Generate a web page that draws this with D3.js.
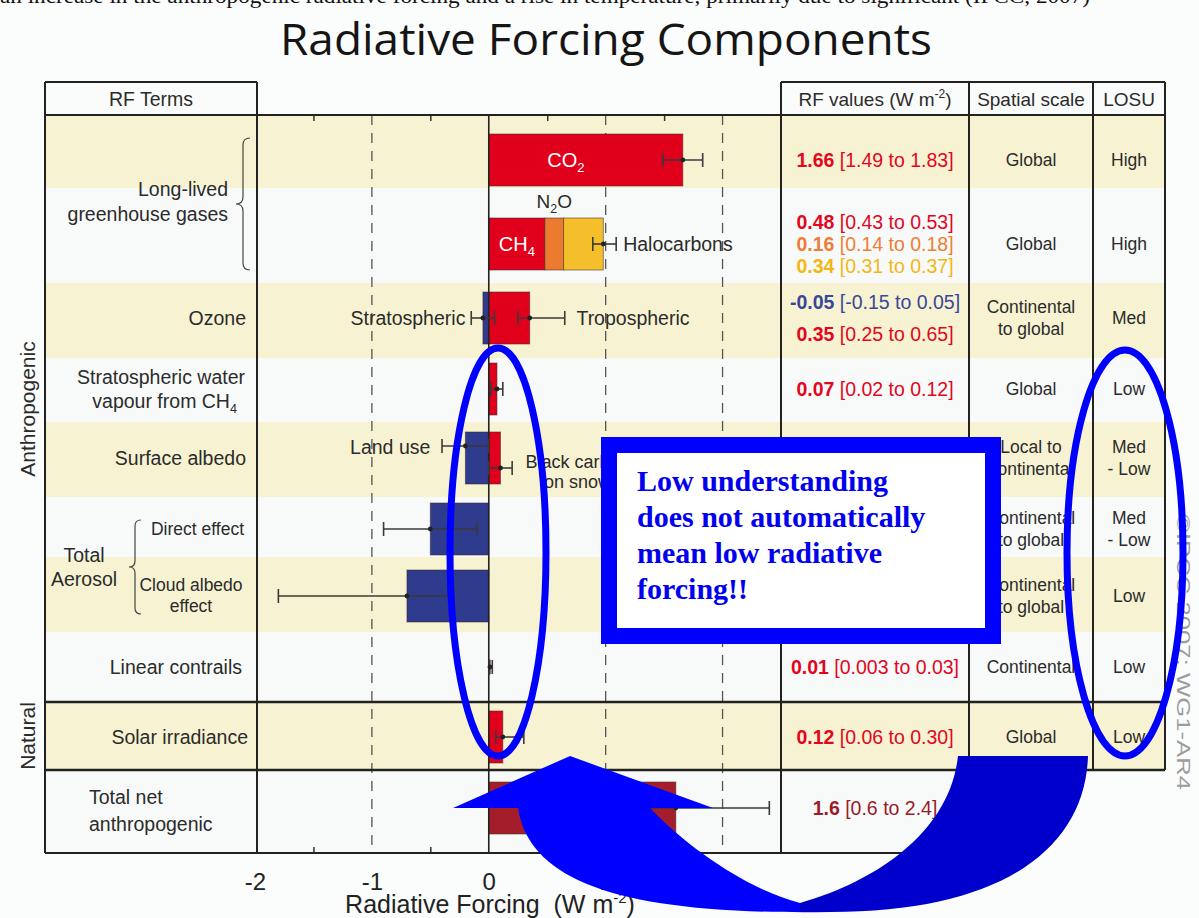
<!DOCTYPE html>
<html>
<head>
<meta charset="utf-8">
<script src="https://cdn.jsdelivr.net/npm/d3@7"></script>
<style>
  body { margin: 0; background: #fbfcfc; }
  svg text { font-family: "Liberation Sans", Arial, sans-serif; }
</style>
</head>
<body>
<div id="chart"></div>
<script>
// ---- data ----
var rowKeys = ["co2", "ghg", "ozone", "water", "albedo", "direct", "cloud", "contrail", "solar", "total"];

var barTerms = ["CO2", "CH4", "N2O", "Halocarbons", "Stratospheric ozone", "Tropospheric ozone",
  "Stratospheric water vapour", "Land use", "Black carbon on snow", "Direct effect",
  "Cloud albedo effect", "Linear contrails", "Solar irradiance", "Total net anthropogenic"];
var barRows = ["co2", "ghg", "ghg", "ghg", "ozone", "ozone", "water", "albedo", "albedo",
  "direct", "cloud", "contrail", "solar", "total"];
var barValues = [1.66, 0.48, 0.16, 0.34, -0.05, 0.35, 0.07, -0.2, 0.1, -0.5, -0.7, 0.01, 0.12, 1.6];
var barLow = [1.49, 0.43, 0.14, 0.31, -0.15, 0.25, 0.02, -0.4, 0.0, -0.9, -1.8, 0.003, 0.06, 0.6];
var barHigh = [1.83, 0.53, 0.18, 0.37, 0.05, 0.65, 0.12, 0.0, 0.2, -0.1, -0.3, 0.03, 0.30, 2.4];
// uncertainty drawn for the whole long-lived GHG stack
var ghgStackRange = [0.89, 1.09];

var xTicks = [-2, -1, 0, 1, 2];
var minorTicks = [-1.5, -0.5, 0.5, 1.5];
var dashedTicks = [-1, 1, 2];

// RF values column: [best estimate, range, colour key]
var valueLines = [
  [["1.66", "[1.49 to 1.83]", "red"]],
  [["0.48", "[0.43 to 0.53]", "red"], ["0.16", "[0.14 to 0.18]", "orange"], ["0.34", "[0.31 to 0.37]", "yellow"]],
  [["-0.05", "[-0.15 to 0.05]", "blue"], ["0.35", "[0.25 to 0.65]", "red"]],
  [["0.07", "[0.02 to 0.12]", "red"]],
  [["-0.2", "[-0.4 to 0.0]", "blue"], ["0.1", "[0.0 to 0.2]", "red"]],
  [["-0.5", "[-0.9 to -0.1]", "blue"]],
  [["-0.7", "[-1.8 to -0.3]", "blue"]],
  [["0.01", "[0.003 to 0.03]", "red"]],
  [["0.12", "[0.06 to 0.30]", "red"]],
  [["1.6", "[0.6 to 2.4]", "dark"]]
];
var spatialLines = [["Global"], ["Global"], ["Continental", "to global"], ["Global"], ["Local to", "continental"],
  ["Continental", "to global"], ["Continental", "to global"], ["Continental"], ["Global"], []];
var losuLines = [["High"], ["High"], ["Med"], ["Low"], ["Med", "- Low"], ["Med", "- Low"], ["Low"], ["Low"], ["Low"], []];

// ---- layout / style ----
var W = 1199, H = 918;
var rowEdges = [115, 188, 283, 358, 422, 497, 557, 632, 702, 770, 853];
var rowCenters = [160, 244, 318, 389, 458, 529, 596, 667, 737, 808];
var barH = 52;
var cols = { left: 45, labelEnd: 257, plotEnd: 781, valEnd: 969, scaleEnd: 1093, right: 1165 };
var headerTop = 82;

var palette = { red: "#e1001c", orange: "#ec7b30", yellow: "#f4bf2a", blue: "#2f3b8c", dark: "#a31d2a" };
var textPalette = { red: "#e2061f", orange: "#ee7e35", yellow: "#f3b712", blue: "#3a4699", dark: "#9a1b2b" };
var termColor = {
  "CO2": "red", "CH4": "red", "N2O": "orange", "Halocarbons": "yellow", "Stratospheric ozone": "blue",
  "Tropospheric ozone": "red", "Stratospheric water vapour": "red", "Land use": "blue",
  "Black carbon on snow": "red", "Direct effect": "blue", "Cloud albedo effect": "blue",
  "Linear contrails": "red", "Solar irradiance": "red", "Total net anthropogenic": "dark"
};
var errOffset = { "Land use": -12, "Black carbon on snow": 10 };
var ink = "#2b2b2b";
var serif = "'Liberation Serif', 'Times New Roman', serif";

var xScale = d3.scaleLinear().domain([-2, 2.5]).range([255, cols.plotEnd]);
var rowY = d3.scaleOrdinal().domain(rowKeys).range(rowCenters);

var svg = d3.select("#chart").append("svg")
  .attr("width", W)
  .attr("height", H);

svg.append("rect").attr("width", W).attr("height", H).attr("fill", "#fbfcfc");

// clipped caption line from the slide above
svg.append("text")
  .attr("x", 0).attr("y", 3)
  .style("font-family", serif)
  .attr("font-size", 22).attr("fill", "#111")
  .attr("textLength", 1090).attr("lengthAdjust", "spacingAndGlyphs")
  .text("an increase in the anthropogenic radiative forcing and a rise in temperature, primarily due to significant (IPCC, 2007)");

// Title
svg.append("text")
  .attr("x", 606).attr("y", 55)
  .attr("text-anchor", "middle")
  .style("font-family", "'Open Sans', 'Noto Sans', sans-serif")
  .attr("font-size", 44).attr("fill", "#151515")
  .attr("textLength", 652).attr("lengthAdjust", "spacingAndGlyphs")
  .text("Radiative Forcing Components");

// Row bands
svg.append("g").selectAll("rect")
  .data(rowKeys)
  .enter().append("rect")
  .attr("x", cols.left)
  .attr("y", (d, i) => rowEdges[i])
  .attr("width", d => (d === "total" ? cols.valEnd : cols.right) - cols.left)
  .attr("height", (d, i) => rowEdges[i + 1] - rowEdges[i])
  .attr("fill", (d, i) => i % 2 === 0 ? "#f7f3d2" : "#f8fafa");

// Header cells
svg.append("rect").attr("x", cols.left).attr("y", headerTop).attr("width", cols.labelEnd - cols.left)
  .attr("height", 115 - headerTop).attr("fill", "#fafcfb");
svg.append("rect").attr("x", cols.plotEnd).attr("y", headerTop).attr("width", cols.right - cols.plotEnd)
  .attr("height", 115 - headerTop).attr("fill", "#fafcfb");

// Dashed reference lines
svg.append("g").selectAll("line")
  .data(dashedTicks)
  .enter().append("line")
  .attr("x1", d => xScale(d)).attr("x2", d => xScale(d))
  .attr("y1", 115).attr("y2", 853)
  .attr("stroke", "#555").attr("stroke-width", 1.3)
  .attr("stroke-dasharray", "10,8");

// Minor ticks top and bottom
var topAxis = d3.axisBottom(xScale).tickValues(minorTicks).tickSize(6).tickFormat("");
svg.append("g").attr("transform", "translate(0,115)").call(topAxis)
  .call(g => g.select(".domain").remove())
  .selectAll("line").attr("stroke", "#333").attr("stroke-width", 1.5);
var botMinor = d3.axisTop(xScale).tickValues(minorTicks).tickSize(6).tickFormat("");
svg.append("g").attr("transform", "translate(0,853)").call(botMinor)
  .call(g => g.select(".domain").remove())
  .selectAll("line").attr("stroke", "#333").attr("stroke-width", 1.5);

// Bottom axis labels
var bottomAxis = d3.axisBottom(xScale).tickValues(xTicks).tickSize(0).tickPadding(20)
  .tickFormat(d => String(d));
svg.append("g").attr("transform", "translate(0,853)").call(bottomAxis)
  .call(g => g.select(".domain").remove())
  .selectAll("text")
  .attr("font-size", 24).attr("fill", "#222");

var axisLabel = svg.append("text")
  .attr("x", 490).attr("y", 913)
  .attr("text-anchor", "middle")
  .style("white-space", "pre")
  .attr("font-size", 25).attr("fill", "#222");
axisLabel.append("tspan").text("Radiative Forcing  (W m");
axisLabel.append("tspan").attr("font-size", 15).attr("dy", -10).text("-2");
axisLabel.append("tspan").attr("dy", 10).text(")");

// ---- bars ----
var bars = barTerms.map(function(t, i) {
  return { term: t, row: barRows[i], value: barValues[i], low: barLow[i], high: barHigh[i] };
});
// stack positive and negative parts within each row
var posSum = {}, negSum = {};
bars.forEach(function(b) {
  if (b.value >= 0) {
    b.x0 = posSum[b.row] || 0;
    b.x1 = b.x0 + b.value;
    posSum[b.row] = b.x1;
  } else {
    b.x1 = negSum[b.row] || 0;
    b.x0 = b.x1 + b.value;
    negSum[b.row] = b.x0;
  }
});

svg.append("g").selectAll("rect")
  .data(bars)
  .enter().append("rect")
  .attr("x", d => xScale(d.x0))
  .attr("y", d => rowY(d.row) - barH / 2)
  .attr("width", d => Math.max(xScale(d.x1) - xScale(d.x0), 1.5))
  .attr("height", d => d.row === "contrail" ? 14 : barH)
  .attr("transform", d => d.row === "contrail" ? "translate(0," + (barH / 2 - 7) + ")" : null)
  .attr("fill", d => palette[termColor[d.term]])
  .attr("stroke", "#3a2a2a").attr("stroke-opacity", 0.55).attr("stroke-width", 1);

// zero line
svg.append("line")
  .attr("x1", xScale(0)).attr("x2", xScale(0))
  .attr("y1", 115).attr("y2", 853)
  .attr("stroke", "#222").attr("stroke-width", 1.6);

// error bars
var errs = bars.filter(d => d.row !== "ghg").map(d => ({
  lo: d.low, hi: d.high, mid: d.value, y: rowY(d.row) + (errOffset[d.term] || 0)
}));
errs.push({ lo: ghgStackRange[0], hi: ghgStackRange[1], mid: posSum["ghg"], y: rowY("ghg") });

var eg = svg.append("g").selectAll("g").data(errs).enter().append("g");
eg.append("line")
  .attr("x1", d => xScale(d.lo)).attr("x2", d => xScale(d.hi))
  .attr("y1", d => d.y).attr("y2", d => d.y)
  .attr("stroke", "#3a3a3a").attr("stroke-width", 1.6);
eg.selectAll(".cap")
  .data(d => [[d.lo, d.y], [d.hi, d.y]])
  .enter().append("line")
  .attr("x1", d => xScale(d[0])).attr("x2", d => xScale(d[0]))
  .attr("y1", d => d[1] - 7).attr("y2", d => d[1] + 7)
  .attr("stroke", "#3a3a3a").attr("stroke-width", 1.6);
eg.append("circle")
  .attr("cx", d => xScale(d.mid)).attr("cy", d => d.y)
  .attr("r", 2.4).attr("fill", "#222");

// bar annotations
function sub(sel, main, s, after) {
  sel.append("tspan").text(main);
  sel.append("tspan").attr("font-size", "0.65em").attr("dy", 5).text(s);
  if (after) sel.append("tspan").attr("dy", -5).text(after);
  return sel;
}
sub(svg.append("text").attr("x", xScale(0.66)).attr("y", rowY("co2") + 7)
  .attr("text-anchor", "middle").attr("font-size", 20).attr("fill", "#fff"), "CO", "2");
sub(svg.append("text").attr("x", xScale(0.24)).attr("y", rowY("ghg") + 7)
  .attr("text-anchor", "middle").attr("font-size", 20).attr("fill", "#fff"), "CH", "4");
sub(svg.append("text").attr("x", xScale(0.56)).attr("y", 208)
  .attr("text-anchor", "middle").attr("font-size", 19).attr("fill", ink), "N", "2", "O");

function plotLabel(x, y, txt, anchor) {
  svg.append("text").attr("x", x).attr("y", y).attr("text-anchor", anchor)
    .attr("font-size", 19.5).attr("fill", ink).text(txt);
}
plotLabel(xScale(1.15), rowY("ghg") + 7, "Halocarbons", "start");
plotLabel(xScale(-0.2), rowY("ozone") + 7, "Stratospheric", "end");
plotLabel(xScale(0.75), rowY("ozone") + 7, "Tropospheric", "start");
plotLabel(xScale(-0.5), rowY("albedo") - 4, "Land use", "end");
svg.append("text").attr("x", xScale(0.76)).attr("y", rowY("albedo") + 10)
  .attr("text-anchor", "middle").attr("font-size", 18).attr("fill", ink).text("Black carbon");
svg.append("text").attr("x", xScale(0.76)).attr("y", rowY("albedo") + 30)
  .attr("text-anchor", "middle").attr("font-size", 18).attr("fill", ink).text("on snow");

// ---- left labels ----
function label(x, y, txt, anchor, size) {
  return svg.append("text").attr("x", x).attr("y", y).attr("text-anchor", anchor || "end")
    .attr("font-size", size || 19.5).attr("fill", ink).text(txt);
}
label(228, 196, "Long-lived");
label(228, 221, "greenhouse gases");
label(246, rowY("ozone") + 7, "Ozone");
label(245, 384, "Stratospheric water");
sub(svg.append("text").attr("x", 237).attr("y", 408).attr("text-anchor", "end")
  .attr("font-size", 19.5).attr("fill", ink), "vapour from CH", "4");
label(246, rowY("albedo") + 7, "Surface albedo");
label(244, rowY("direct") + 6, "Direct effect", "end", 17.5);
label(191, 591, "Cloud albedo", "middle", 17.5);
label(191, 612, "effect", "middle", 17.5);
label(84, 562, "Total", "middle");
label(84, 586, "Aerosol", "middle");
label(242, rowY("contrail") + 7, "Linear contrails");
label(248, rowY("solar") + 7, "Solar irradiance");
label(89, 804, "Total net", "start");
label(89, 831, "anthropogenic", "start");

function brace(x, y0, y1, w) {
  var ym = (y0 + y1) / 2;
  return "M" + (x + w) + "," + y0 + " Q" + x + "," + y0 + " " + x + "," + (y0 + w) +
    " L" + x + "," + (ym - w) + " Q" + x + "," + ym + " " + (x - w) + "," + ym +
    " Q" + x + "," + ym + " " + x + "," + (ym + w) +
    " L" + x + "," + (y1 - w) + " Q" + x + "," + y1 + " " + (x + w) + "," + y1;
}
svg.append("path").attr("d", brace(243, 138, 270, 7)).attr("fill", "none").attr("stroke", "#444").attr("stroke-width", 1.2);
svg.append("path").attr("d", brace(135, 520, 614, 6)).attr("fill", "none").attr("stroke", "#444").attr("stroke-width", 1.2);

svg.append("text").attr("transform", "translate(35,409) rotate(-90)")
  .attr("text-anchor", "middle").attr("font-size", 21).attr("fill", ink).text("Anthropogenic");
svg.append("text").attr("transform", "translate(35,736) rotate(-90)")
  .attr("text-anchor", "middle").attr("font-size", 21).attr("fill", ink).text("Natural");

// ---- headers ----
label(151, 106, "RF Terms", "middle");
var hv = svg.append("text").attr("x", 875).attr("y", 106).attr("text-anchor", "middle")
  .attr("font-size", 19).attr("fill", ink);
hv.append("tspan").text("RF values (W m");
hv.append("tspan").attr("font-size", 12).attr("dy", -8).text("-2");
hv.append("tspan").attr("dy", 8).text(")");
label(1031, 106, "Spatial scale", "middle", 19);
label(1129, 106, "LOSU", "middle", 19);

// ---- values / spatial / LOSU columns ----
var valueSpacing = { ghg: 22, ozone: 32, albedo: 22 };
rowKeys.forEach(function(k, i) {
  var lines = valueLines[i];
  var sp = valueSpacing[k] || 22;
  lines.forEach(function(l, j) {
    var y = rowY(k) + (j - (lines.length - 1) / 2) * sp + 7;
    var t = svg.append("text").attr("x", 875).attr("y", y).attr("text-anchor", "middle")
      .attr("font-size", 19.5).attr("fill", textPalette[l[2]]);
    t.append("tspan").attr("font-weight", "bold").text(l[0] + " ");
    t.append("tspan").text(l[1]);
  });
  spatialLines[i].forEach(function(s, j) {
    var y = rowY(k) + (j - (spatialLines[i].length - 1) / 2) * 22 + 6;
    label(1031, y, s, "middle", 17.5);
  });
  losuLines[i].forEach(function(s, j) {
    var y = rowY(k) + (j - (losuLines[i].length - 1) / 2) * 22 + 6;
    label(1129, y, s, "middle", 17.5);
  });
});

// ---- table frame ----
var hLines = [
  [cols.left, cols.labelEnd, headerTop, 2], [cols.plotEnd, cols.right, headerTop, 2],
  [cols.left, cols.right, 115, 2], [cols.left, cols.right, 702, 2.6],
  [cols.left, cols.right, 770, 2.6], [cols.left, cols.valEnd, 853, 2.2]
];
svg.append("g").selectAll("line").data(hLines).enter().append("line")
  .attr("x1", d => d[0]).attr("x2", d => d[1]).attr("y1", d => d[2]).attr("y2", d => d[2])
  .attr("stroke", "#222").attr("stroke-width", d => d[3]);
var vLines = [
  [cols.left, 853], [cols.labelEnd, 853], [cols.plotEnd, 853], [cols.valEnd, 853],
  [cols.scaleEnd, 770], [cols.right, 770]
];
svg.append("g").selectAll("line").data(vLines).enter().append("line")
  .attr("x1", d => d[0]).attr("x2", d => d[0]).attr("y1", headerTop).attr("y2", d => d[1])
  .attr("stroke", "#222").attr("stroke-width", 2);

svg.append("text").attr("transform", "translate(1177,514) rotate(90)")
  .attr("font-size", 19).attr("fill", "#9c9c9c")
  .attr("textLength", 276).attr("lengthAdjust", "spacingAndGlyphs")
  .text("©IPCC 2007: WG1-AR4");

// ---- overlays ----
svg.append("ellipse").attr("cx", 498).attr("cy", 552).attr("rx", 48).attr("ry", 204)
  .attr("fill", "none").attr("stroke", "#0000ff").attr("stroke-width", 7);
svg.append("ellipse").attr("cx", 1125).attr("cy", 553).attr("rx", 58).attr("ry", 203)
  .attr("fill", "none").attr("stroke", "#0000ff").attr("stroke-width", 7);

svg.append("rect").attr("x", 609).attr("y", 445).attr("width", 384).attr("height", 191)
  .attr("fill", "#fff").attr("stroke", "#0000ff").attr("stroke-width", 16);
var msg = ["Low understanding", "does not automatically", "mean low radiative", "forcing!!"];
svg.append("g").selectAll("text").data(msg).enter().append("text")
  .attr("x", 637).attr("y", (d, i) => 491 + i * 36)
  .style("font-family", serif)
  .attr("font-weight", "bold").attr("font-size", 30).attr("fill", "#0000ee")
  .text(d => d);

var defs = svg.append("defs");
var grad = defs.append("linearGradient").attr("id", "arrowGrad")
  .attr("gradientUnits", "userSpaceOnUse").attr("x1", 700).attr("x2", 900).attr("y1", 0).attr("y2", 0);
grad.append("stop").attr("offset", "0.5").attr("stop-color", "#0000ff");
grad.append("stop").attr("offset", "0.5").attr("stop-color", "#0000cc");

svg.append("path")
  .attr("d", "M1088,756 C1085,850 1000,912 830,912 C630,915 530,885 518,808 L453,808 L570,756 L713,808 L650,808 " +
    "C690,850 750,890 800,903 C880,880 950,830 958,756 Z")
  .attr("fill", "url(#arrowGrad)");
</script>
</body>
</html>
